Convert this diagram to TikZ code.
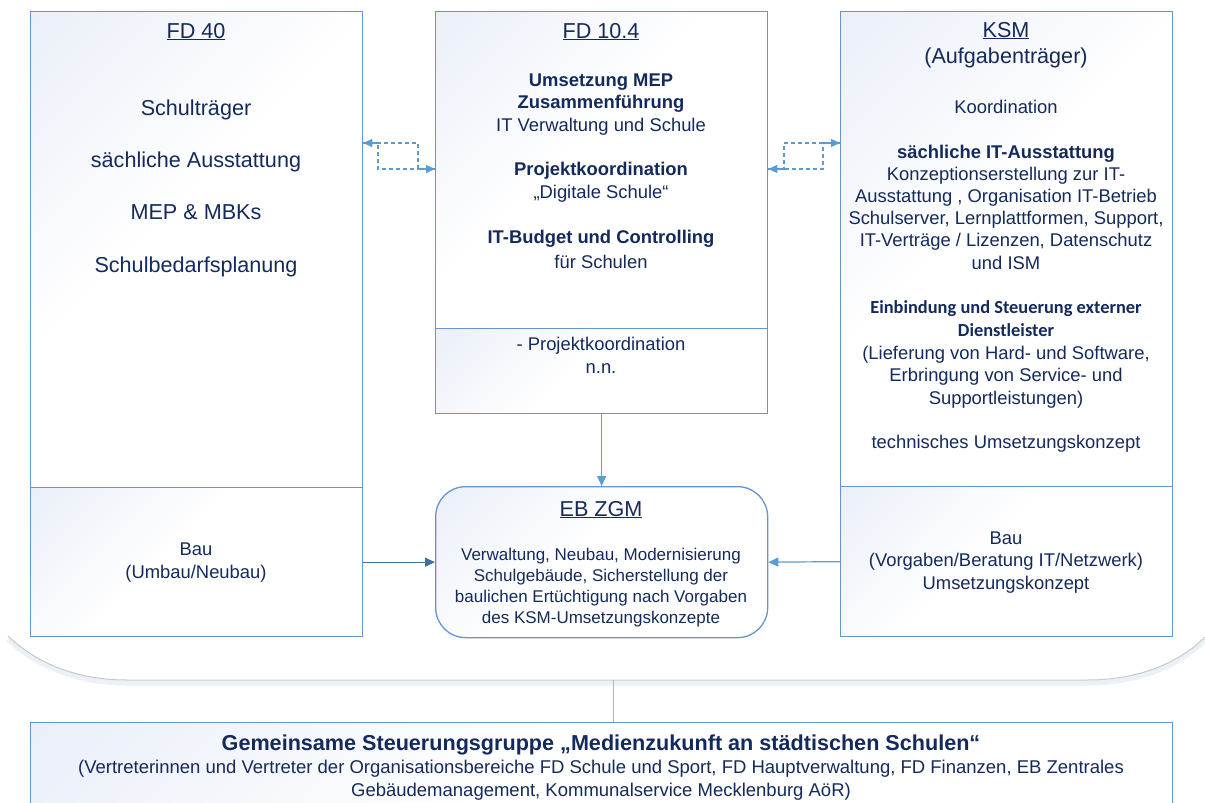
\documentclass[tikz,border=0pt]{standalone}
\usepackage{fontspec}
\setmainfont{Liberation Sans}
\newfontfamily\calibfont{Carlito}
\usetikzlibrary{arrows.meta}
\definecolor{textc}{RGB}{20,42,92}
\definecolor{boxblue}{RGB}{100,150,206}
\definecolor{arrowblue}{RGB}{91,155,213}
\definecolor{arrowdark}{RGB}{66,113,160}
\definecolor{shadeblue}{RGB}{224,231,245}
\definecolor{curvegray}{RGB}{200,200,200}
\definecolor{curveshade}{RGB}{236,240,247}
\pgfdeclarehorizontalshading{boxshade}{100bp}{color(0bp)=(shadeblue); color(45bp)=(white); color(100bp)=(white)}
\newcommand\fsTitle{\fontsize{21.6}{26}\selectfont}
\newcommand\fsBody{\fontsize{18.4}{22.2}\selectfont}
\newcommand\fsEb{\fontsize{17}{20.7}\selectfont}
\newcommand\fsSteer{\fontsize{18.5}{22.5}\selectfont}
\tikzset{
  box/.style={draw=boxblue, line width=1.3pt, shade, shading=boxshade, shading angle=-45, inner sep=0pt, anchor=north west},
  txt/.style={text=textc, inner sep=0pt, anchor=base, align=center},
  dconn/.style={draw=arrowblue, line width=1.2pt, dash pattern=on 4pt off 3pt, -{Triangle[length=9pt,width=8pt]}},
  conn/.style={draw=arrowblue, line width=1.2pt, -{Triangle[length=10pt,width=9pt]}},
  conndark/.style={draw=arrowdark, line width=1.2pt, -{Triangle[length=10pt,width=9pt]}},
  curveline/.style={draw=curvegray, line width=1pt},
  curveshadow/.style={draw=curveshade, line width=5pt},
}
\begin{document}
\begin{tikzpicture}[x=1pt,y=-1pt]
\useasboundingbox (0,0) rectangle (1205,803);
% background curve
\draw[curveshadow] (8,639) .. controls (35,665) and (75,683) .. (127,683) -- (1087,683) .. controls (1140,683) and (1180,665) .. (1205,640);
\draw[curveline] (8,636) .. controls (35,662) and (75,680) .. (127,680) -- (1087,680) .. controls (1140,680) and (1180,662) .. (1205,637);
\coordinate (cb) at (613,680);

% boxes
\node[box, minimum width=332pt, minimum height=476pt] (fd40) at (30,11) {};
\node[box, minimum width=332pt, minimum height=149pt] (fd40bau) at (30,487) {};
\node[box, minimum width=332pt, minimum height=317pt] (mid) at (435,11) {};
\node[box, minimum width=332pt, minimum height=85pt] (midlow) at (435,328) {};
\node[box, minimum width=332pt, minimum height=475pt] (ksm) at (840,11) {};
\node[box, minimum width=332pt, minimum height=150pt] (ksmbau) at (840,486) {};
\node[box, rounded corners=30pt, minimum width=332pt, minimum height=151pt] (eb) at (435,486) {};
\node[box, minimum width=1142pt, minimum height=90pt] (steer) at (30,722) {};

% connector to steering group
\draw[curveline, draw=curvegray!90!black] (cb) -- (cb |- steer.north);

% dashed connectors
\draw[dconn] (mid.west |- 0,169) -- (378,169) -- (378,143) -- (fd40.east |- 0,143);
\draw[dconn] (fd40.east |- 0,143) -- (418,143) -- (418,169) -- (mid.west |- 0,169);
\draw[dconn] (mid.east |- 0,169) -- (784,169) -- (784,143) -- (ksm.west |- 0,143);
\draw[dconn] (ksm.west |- 0,143) -- (823,143) -- (823,169) -- (mid.east |- 0,169);

% solid connectors
\draw[conn] (midlow.south) -- (eb.north);
\draw[conndark] (fd40bau.east) -- (eb.west);
\draw[conn] (ksmbau.west) -- (eb.east);

% FD 40 texts (multi-line nodes are placed at the baseline of their last line)
\node[txt, font=\fsTitle] (t40) at (196,38) {\underline{FD 40}};
\node[txt, font=\fontsize{21.6}{52.3}\selectfont] (t40b) at (196,272) {Schulträger\\sächliche Ausstattung\\MEP \& MBKs\\Schulbedarfsplanung};
\node[txt, font=\fsBody] (t40c) at (196,578) {Bau\\(Umbau/Neubau)};

% FD 10.4 texts
\node[txt, font=\fsTitle] (tm) at (601,38) {\underline{FD 10.4}};
\node[txt, font=\fsBody] (tm1) at (601,131) {\textbf{Umsetzung MEP}\\\textbf{Zusammenführung}\\IT Verwaltung und Schule};
\node[txt, font=\fsBody] (tm2) at (601,198) {\textbf{Projektkoordination}\\„Digitale Schule“};
\node[txt, font=\fsBody] (tm3) at (601,243) {\textbf{IT-Budget und Controlling}};
\node[txt, font=\fsBody] (tm4) at (601,268) {für Schulen};
\node[txt, font=\fsBody] (tm5) at (601,373) {- Projektkoordination\\n.n.};

% KSM texts
\node[txt, font=\fsTitle] (tk) at (1006,63) {\underline{KSM}\\(Aufgabenträger)};
\node[txt, font=\fsBody] (tk1) at (1006,113) {Koordination};
\node[txt, font=\fsBody] (tk2) at (1006,269) {\textbf{sächliche IT-Ausstattung}\\Konzeptionserstellung zur IT-\\Ausstattung , Organisation IT-Betrieb\\Schulserver, Lernplattformen, Support,\\IT-Verträge / Lizenzen, Datenschutz\\und ISM};
\node[txt, font=\fontsize{18.4}{23}\selectfont\calibfont\bfseries] (tk3) at (1006,336) {Einbindung und Steuerung externer\\Dienstleister};
\node[txt, font=\fsBody] (tk4) at (1006,404) {(Lieferung von Hard- und Software,\\Erbringung von Service- und\\Supportleistungen)};
\node[txt, font=\fsBody] (tk5) at (1006,448) {technisches Umsetzungskonzept};
\node[txt, font=\fsBody] (tk6) at (1006,589) {Bau\\(Vorgaben/Beratung IT/Netzwerk)\\Umsetzungskonzept};

% EB ZGM texts
\node[txt, font=\fsTitle] (te) at (601,516) {\underline{EB ZGM}};
\node[txt, font=\fsEb] (te1) at (601,623) {Verwaltung, Neubau, Modernisierung\\Schulgebäude, Sicherstellung der\\baulichen Ertüchtigung nach Vorgaben\\des KSM-Umsetzungskonzepte};

% steering group texts
\node[txt, font=\fsTitle\bfseries] (ts) at (601,750) {Gemeinsame Steuerungsgruppe „Medienzukunft an städtischen Schulen“};
\node[txt, font=\fsSteer] (ts1) at (601,796) {(Vertreterinnen und Vertreter der Organisationsbereiche FD Schule und Sport, FD Hauptverwaltung, FD Finanzen, EB Zentrales\\Gebäudemanagement, Kommunalservice Mecklenburg AöR)};
\end{tikzpicture}
\end{document}
